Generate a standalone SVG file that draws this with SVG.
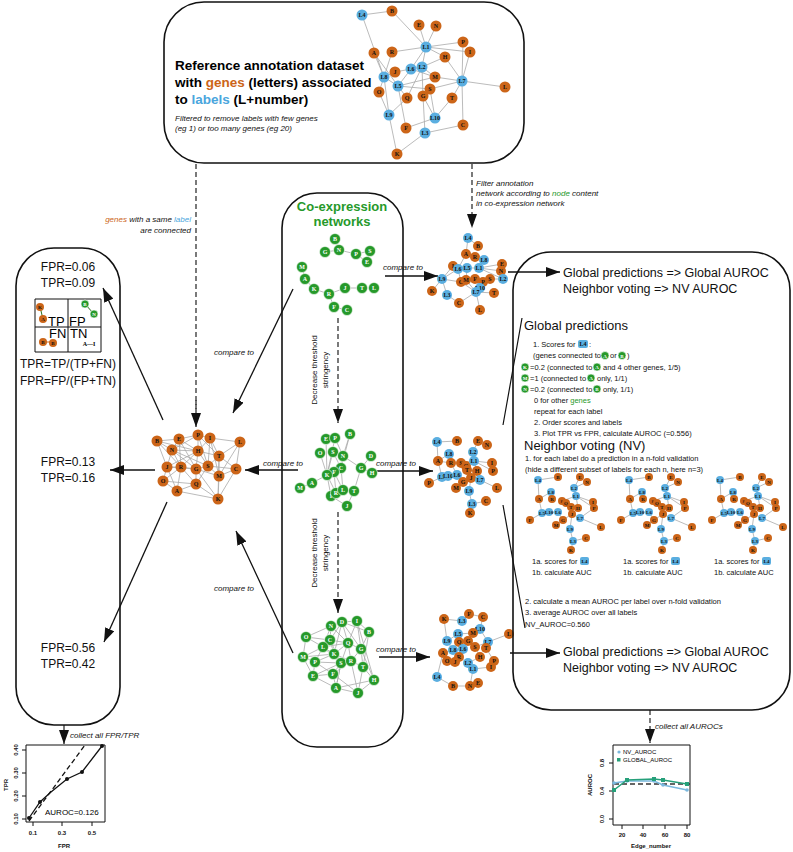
<svg xmlns="http://www.w3.org/2000/svg" width="793" height="852" viewBox="0 0 793 852">
<style>
.bx{fill:none;stroke:#111;stroke-width:1.6}
.o{fill:#cc6518}.b{fill:#5aaee0}.g{fill:#26992a;stroke:#fff;stroke-width:.6}
.t{font:bold 6px "Liberation Serif",serif;text-anchor:middle;fill:#111}
.tw{font:bold 6px "Liberation Serif",serif;text-anchor:middle;fill:#fff}
.ts{font:bold 5px "Liberation Serif",serif;text-anchor:middle;fill:#111}
.e{stroke:#aaa;stroke-width:.8;fill:none}
.a{stroke:#111;stroke-width:1.3;fill:none;marker-end:url(#ar)}
.d{stroke:#333;stroke-width:1.3;fill:none;stroke-dasharray:5,3}
.da{stroke:#333;stroke-width:1.3;fill:none;stroke-dasharray:5,3;marker-end:url(#ar)}
.it{font:italic 8px "Liberation Sans",Arial,sans-serif;fill:#111}
.s{font:7.5px "Liberation Sans",Arial,sans-serif;fill:#111}
.m{font:12.5px "Liberation Sans",Arial,sans-serif;fill:#111}
.h{font:13px "Liberation Sans",Arial,sans-serif;fill:#111}
.f{font:12px "Liberation Sans",Arial,sans-serif;fill:#111;text-anchor:middle}
.tk{font:bold 6px "Liberation Sans",Arial,sans-serif;fill:#111}
</style>
<defs>
<marker id="ar" viewBox="0 0 14 10" refX="14" refY="5" markerWidth="14" markerHeight="10" markerUnits="userSpaceOnUse" orient="auto"><path d="M0,0 L14,5 L0,10 z" fill="#111"/></marker>
<g id="mini">
<path class="e" d="M538,480L539,499M538,480L558,477M580,477L574,488M587,482L574,488M574,488L576,496M576,496L593,502M576,496L594,508M576,496L562,501M551,492L552,499M539,499L551,492M539,499L542,513M530,520L542,513M542,513L549,512M549,512L558,512M558,512L563,520M563,520L572,514M572,514L580,518M580,518L601,527M556,525L563,520M570,529L572,514M570,529L573,541M573,541L586,538M573,541L571,550M578,508L576,496M571,507L578,508M580,518L594,508"/>
<circle class="b" cx="538" cy="480" r="4"/><text class="ts" x="538" y="482">L4</text>
<circle class="o" cx="558" cy="477" r="4"/><text class="ts" x="558" y="479">B</text>
<circle class="o" cx="580" cy="477" r="4"/><text class="ts" x="580" y="479">E</text>
<circle class="o" cx="587" cy="482" r="4"/><text class="ts" x="587" y="484">N</text>
<circle class="b" cx="574" cy="488" r="4"/><text class="ts" x="574" y="490">L2</text>
<circle class="b" cx="551" cy="492" r="4"/><text class="ts" x="551" y="494">L8</text>
<circle class="o" cx="539" cy="499" r="4"/><text class="ts" x="539" y="501">A</text>
<circle class="o" cx="552" cy="499" r="4"/><text class="ts" x="552" y="501">R</text>
<circle class="o" cx="593" cy="502" r="4"/><text class="ts" x="593" y="504">I</text>
<circle class="o" cx="594" cy="508" r="4"/><text class="ts" x="594" y="510">P</text>
<circle class="o" cx="562" cy="501" r="4"/><text class="ts" x="562" y="503">S</text>
<circle class="o" cx="566" cy="503" r="4"/><text class="ts" x="566" y="505">Q</text>
<circle class="b" cx="576" cy="496" r="4"/><text class="ts" x="576" y="498">L1</text>
<circle class="o" cx="571" cy="507" r="4"/><text class="ts" x="571" y="509">T</text>
<circle class="o" cx="578" cy="508" r="4"/><text class="ts" x="578" y="510">H</text>
<circle class="o" cx="530" cy="520" r="4"/><text class="ts" x="530" y="522">F</text>
<circle class="b" cx="542" cy="513" r="4"/><text class="ts" x="542" y="515">L5</text>
<circle class="b" cx="549" cy="512" r="4"/><text class="ts" x="549" y="514">L10</text>
<circle class="b" cx="558" cy="512" r="4"/><text class="ts" x="558" y="514">L6</text>
<circle class="o" cx="572" cy="514" r="4"/><text class="ts" x="572" y="516">J</text>
<circle class="o" cx="563" cy="520" r="4"/><text class="ts" x="563" y="522">G</text>
<circle class="b" cx="580" cy="518" r="4"/><text class="ts" x="580" y="520">L7</text>
<circle class="o" cx="556" cy="525" r="4"/><text class="ts" x="556" y="527">M</text>
<circle class="o" cx="601" cy="527" r="4"/><text class="ts" x="601" y="529">L</text>
<circle class="b" cx="570" cy="529" r="4"/><text class="ts" x="570" y="531">L9</text>
<circle class="o" cx="586" cy="538" r="4"/><text class="ts" x="586" y="540">C</text>
<circle class="b" cx="573" cy="541" r="4"/><text class="ts" x="573" y="543">L3</text>
<circle class="o" cx="571" cy="550" r="4"/><text class="ts" x="571" y="552">K</text>
<text class="s" x="532" y="564">1a. scores for</text>
<rect x="580" y="557" width="9" height="8" rx="2" class="b"/><text class="ts" x="584.5" y="563">L4</text>
<text class="s" x="532" y="575">1b. calculate AUC</text>
</g>
</defs>

<!-- connectors -->
<g id="connectors">
<path class="d" d="M196,164V410"/><path class="da" d="M196,400V427"/>
<path class="da" d="M472,164V228"/>
<path class="a" d="M385,276H438"/>
<path class="a" d="M377,471H433"/>
<path class="a" d="M379,657H430"/>
<path class="a" d="M298,470H245"/>
<path class="a" d="M293,289L233,413"/>
<path class="a" d="M293,653L236,531"/>
<path class="da" d="M338,318V423"/>
<path class="da" d="M338,512V613"/>
<path class="a" d="M163,420L103,288"/>
<path class="a" d="M155,470H110"/>
<path class="a" d="M167,502L104,642"/>
<path class="a" d="M508,272H560"/>
<path class="a" d="M510,653H560"/>
<path stroke="#111" stroke-width="1.2" fill="none" d="M503,425L522,318M503,505L525,628"/>
<path class="da" d="M64,725V744"/>
<path class="da" d="M650,710V743"/>
</g>

<!-- labels on connectors -->
<g id="labels">
<text class="it" x="191" y="222" text-anchor="end"><tspan fill="#cc6518">genes</tspan> with a same  <tspan fill="#4aa6dd">label</tspan></text>
<text class="it" x="191" y="233" text-anchor="end">are connected</text>
<text class="it" x="476" y="186">Filter annotation</text>
<text class="it" x="476" y="196">network according to <tspan fill="#26992a">node</tspan> content</text>
<text class="it" x="476" y="206">in co-expression network</text>
<text class="it" x="383" y="270">compare to</text>
<text class="it" x="376" y="466">compare to</text>
<text class="it" x="376" y="652">compare to</text>
<text class="it" x="263" y="466">compare to</text>
<text class="it" x="214" y="355">compare to</text>
<text class="it" x="214" y="591">compare to</text>
<text class="it" x="317" y="370" transform="rotate(-90 317 370)" text-anchor="middle" style="font-style:normal">Decrease threshold</text>
<text class="it" x="328" y="370" transform="rotate(-90 328 370)" text-anchor="middle" style="font-style:normal">stringency</text>
<text class="it" x="317" y="553" transform="rotate(-90 317 553)" text-anchor="middle" style="font-style:normal">Decrease threshold</text>
<text class="it" x="328" y="553" transform="rotate(-90 328 553)" text-anchor="middle" style="font-style:normal">stringency</text>
<text class="it" x="70" y="738">collect all FPR/TPR</text>
<text class="it" x="655" y="729">collect all AUROCs</text>
</g>

<!-- top box -->
<g id="reference">
<rect class="bx" x="164" y="2" width="360" height="161" rx="40"/>
<text x="175" y="70" style="font:bold 13.5px 'Liberation Sans',Arial,sans-serif">Reference annotation dataset</text>
<text x="175" y="87" style="font:bold 13.5px 'Liberation Sans',Arial,sans-serif">with <tspan fill="#cc6518">genes</tspan> (letters) associated</text>
<text x="175" y="104" style="font:bold 13.5px 'Liberation Sans',Arial,sans-serif">to <tspan fill="#4aa6dd">labels</tspan> (L+number)</text>
<text class="it" x="175" y="121">Filtered to remove labels with few genes</text>
<text class="it" x="175" y="131"> (eg 1) or too many genes (eg 20)</text>
<path class="e" d="M362,15L392,11M362,15L384,77M392,11L426,47M419,25L426,47M436,26L426,47M426,47L463,42M426,47L470,52M426,47L392,52M426,47L422,67M426,47L445,57M426,47L411,69M392,52L384,77M374,53L384,77M374,53L398,86M384,77L395,72M384,77L379,92M384,77L398,86M384,77L389,115M411,69L395,72M411,69L398,86M411,69L422,67M411,69L435,77M422,67L445,57M422,67L407,98M422,67L423,96M422,67L435,77M445,57L462,81M435,77L462,81M435,77L398,86M463,42L462,81M470,52L462,81M462,81L505,87M462,81L430,89M462,81L452,98M462,81L463,125M430,89L398,86M430,89L435,118M423,96L425,133M398,86L407,98M389,115L379,92M389,115L397,154M389,115L407,98M435,118L406,128M435,118L452,98M435,118L423,96M425,133L463,125M425,133L397,154M406,128L398,86"/>
<circle class="b" cx="362" cy="15" r="5.5"/><text class="t" x="362" y="17">L4</text>
<circle class="o" cx="392" cy="11" r="5.5"/><text class="t" x="392" y="13">B</text>
<circle class="o" cx="419" cy="25" r="5.5"/><text class="t" x="419" y="27">E</text>
<circle class="o" cx="436" cy="26" r="5.5"/><text class="t" x="436" y="28">N</text>
<circle class="b" cx="426" cy="47" r="5.5"/><text class="t" x="426" y="49">L1</text>
<circle class="o" cx="463" cy="42" r="5.5"/><text class="t" x="463" y="44">P</text>
<circle class="o" cx="470" cy="52" r="5.5"/><text class="t" x="470" y="54">I</text>
<circle class="o" cx="374" cy="53" r="5.5"/><text class="t" x="374" y="55">A</text>
<circle class="o" cx="392" cy="52" r="5.5"/><text class="t" x="392" y="54">R</text>
<circle class="o" cx="445" cy="57" r="5.5"/><text class="t" x="445" y="59">H</text>
<circle class="b" cx="411" cy="69" r="5.5"/><text class="t" x="411" y="71">L6</text>
<circle class="b" cx="422" cy="67" r="5.5"/><text class="t" x="422" y="69">L2</text>
<circle class="o" cx="395" cy="72" r="5.5"/><text class="t" x="395" y="74">J</text>
<circle class="b" cx="384" cy="77" r="5.5"/><text class="t" x="384" y="79">L8</text>
<circle class="o" cx="435" cy="77" r="5.5"/><text class="t" x="435" y="79">M</text>
<circle class="b" cx="462" cy="81" r="5.5"/><text class="t" x="462" y="83">L7</text>
<circle class="o" cx="505" cy="87" r="5.5"/><text class="t" x="505" y="89">L</text>
<circle class="b" cx="398" cy="86" r="5.5"/><text class="t" x="398" y="88">L5</text>
<circle class="o" cx="379" cy="92" r="5.5"/><text class="t" x="379" y="94">O</text>
<circle class="o" cx="430" cy="89" r="5.5"/><text class="t" x="430" y="91">S</text>
<circle class="o" cx="407" cy="98" r="5.5"/><text class="t" x="407" y="100">Q</text>
<circle class="o" cx="423" cy="96" r="5.5"/><text class="t" x="423" y="98">G</text>
<circle class="o" cx="452" cy="98" r="5.5"/><text class="t" x="452" y="100">T</text>
<circle class="b" cx="389" cy="115" r="5.5"/><text class="t" x="389" y="117">L9</text>
<circle class="b" cx="435" cy="118" r="5.5"/><text class="t" x="435" y="120">L10</text>
<circle class="o" cx="406" cy="128" r="5.5"/><text class="t" x="406" y="130">F</text>
<circle class="o" cx="463" cy="125" r="5.5"/><text class="t" x="463" y="127">C</text>
<circle class="b" cx="425" cy="133" r="5.5"/><text class="t" x="425" y="135">L3</text>
<circle class="o" cx="397" cy="154" r="5.5"/><text class="t" x="397" y="156">K</text>
</g>

<!-- left box -->
<g id="metrics">
<rect class="bx" x="16" y="248" width="104" height="477" rx="38"/>
<text class="f" x="68" y="271">FPR=0.06</text>
<text class="f" x="68" y="287">TPR=0.09</text>
<path fill="none" stroke="#111" stroke-width="1" d="M35,299H101V352H35ZM68,299V352M35,327H101"/>
<path stroke="#2a6e1a" stroke-width="1" d="M40,307L43,319M85,304L94,314"/>
<circle class="o" cx="40" cy="307" r="4"/><text class="ts" x="40" y="309">K</text>
<circle class="o" cx="43" cy="319" r="4"/><text class="ts" x="43" y="321">A</text>
<circle class="g" cx="85" cy="304" r="4"/><text class="tw" x="85" y="306" style="font-size:5px">B</text>
<circle class="g" cx="94" cy="314" r="4"/><text class="tw" x="94" y="316" style="font-size:5px">N</text>
<text x="48" y="326" style="font:13px 'Liberation Sans',Arial,sans-serif">TP</text>
<text x="69" y="326" style="font:13px 'Liberation Sans',Arial,sans-serif">FP</text>
<text x="49" y="338" style="font:13px 'Liberation Sans',Arial,sans-serif">FN</text>
<text x="70" y="338" style="font:13px 'Liberation Sans',Arial,sans-serif">TN</text>
<path stroke="#cc6518" stroke-width="1" d="M43,342H53"/>
<circle class="o" cx="43" cy="342" r="4"/><text class="ts" x="43" y="344">B</text>
<circle class="o" cx="53" cy="343" r="4"/><text class="ts" x="53" y="345">B</text>
<text x="89" y="346" text-anchor="middle" style="font:bold 6px 'Liberation Serif',serif">A—I</text>
<text class="f" x="68" y="368">TPR=TP/(TP+FN)</text>
<text class="f" x="68" y="385">FPR=FP/(FP+TN)</text>
<text class="f" x="68" y="466">FPR=0.13</text>
<text class="f" x="68" y="482">TPR=0.16</text>
<text class="f" x="68" y="652">FPR=0.56</text>
<text class="f" x="68" y="668">TPR=0.42</text>
</g>

<!-- left orange network -->
<g id="annot-net-left">
<path class="e" d="M157,441L179,439M157,441L172,450M157,441L167,467M157,441L198,451M179,439L198,435M179,439L172,450M179,439L198,451M179,439L181,467M198,435L210,438M198,435L198,451M198,435L219,456M198,435L172,450M210,438L240,442M210,438L219,456M210,438L198,451M210,438L208,466M240,442L219,456M240,442L236,469M240,442L219,476M172,450L198,451M172,450L167,467M172,450L181,467M172,450L196,469M198,451L219,456M198,451L196,469M198,451L208,466M198,451L181,467M198,451L167,467M219,456L208,466M219,456L219,476M219,456L236,469M167,467L181,467M167,467L163,481M167,467L196,469M181,467L196,469M181,467L196,484M181,467L177,491M196,469L208,466M196,469L196,484M196,469L219,476M208,466L219,476M208,466L236,469M219,476L236,469M219,476L218,499M236,469L218,499M163,481L177,491M163,481L196,484M196,484L177,491M196,484L218,499M177,491L218,499M208,466L196,484M179,439L196,469M157,441L181,467M198,435L208,466M210,438L219,476M172,450L208,466M167,467L177,491M196,469L218,499M219,456L218,499M163,481L181,467"/>
<circle class="o" cx="157" cy="441" r="5.5"/><text class="t" x="157" y="443">B</text>
<circle class="o" cx="179" cy="439" r="5.5"/><text class="t" x="179" y="441">E</text>
<circle class="o" cx="198" cy="435" r="5.5"/><text class="t" x="198" y="437">P</text>
<circle class="o" cx="210" cy="438" r="5.5"/><text class="t" x="210" y="440">I</text>
<circle class="o" cx="240" cy="442" r="5.5"/><text class="t" x="240" y="444">L</text>
<circle class="o" cx="172" cy="450" r="5.5"/><text class="t" x="172" y="452">N</text>
<circle class="o" cx="198" cy="451" r="5.5"/><text class="t" x="198" y="453">H</text>
<circle class="o" cx="219" cy="456" r="5.5"/><text class="t" x="219" y="458">T</text>
<circle class="o" cx="167" cy="467" r="5.5"/><text class="t" x="167" y="469">J</text>
<circle class="o" cx="181" cy="467" r="5.5"/><text class="t" x="181" y="469">R</text>
<circle class="o" cx="196" cy="469" r="5.5"/><text class="t" x="196" y="471">G</text>
<circle class="o" cx="208" cy="466" r="5.5"/><text class="t" x="208" y="468">S</text>
<circle class="o" cx="219" cy="476" r="5.5"/><text class="t" x="219" y="478">M</text>
<circle class="o" cx="236" cy="469" r="5.5"/><text class="t" x="236" y="471">C</text>
<circle class="o" cx="163" cy="481" r="5.5"/><text class="t" x="163" y="483">O</text>
<circle class="o" cx="196" cy="484" r="5.5"/><text class="t" x="196" y="486">Q</text>
<circle class="o" cx="177" cy="491" r="5.5"/><text class="t" x="177" y="493">A</text>
<circle class="o" cx="218" cy="499" r="5.5"/><text class="t" x="218" y="501">K</text>
</g>

<!-- center box -->
<g id="coexpression">
<rect class="bx" x="282" y="193" width="121" height="554" rx="35"/>
<text x="342" y="211" text-anchor="middle" style="font:bold 13px 'Liberation Sans',Arial,sans-serif" fill="#26992a">Co-expression</text>
<text x="342" y="226" text-anchor="middle" style="font:bold 13px 'Liberation Sans',Arial,sans-serif" fill="#26992a">networks</text>
</g>
<g id="coexp-net-1">
<path class="e" d="M325,252L339,250M339,250L335,239M339,250L356,254M356,254L370,251M356,254L367,262M370,251L367,262M302,267L305,279M305,279L314,289M314,289L329,294M329,294L345,288M345,288L362,288M362,288L374,288M329,294L334,307M334,307L347,310"/>
<circle class="g" cx="335" cy="239" r="5.5"/><text class="tw" x="335" y="241">B</text>
<circle class="g" cx="325" cy="252" r="5.5"/><text class="tw" x="325" y="254">G</text>
<circle class="g" cx="339" cy="250" r="5.5"/><text class="tw" x="339" y="252">N</text>
<circle class="g" cx="356" cy="254" r="5.5"/><text class="tw" x="356" y="256">P</text>
<circle class="g" cx="370" cy="251" r="5.5"/><text class="tw" x="370" y="253">S</text>
<circle class="g" cx="367" cy="262" r="5.5"/><text class="tw" x="367" y="264">E</text>
<circle class="g" cx="302" cy="267" r="5.5"/><text class="tw" x="302" y="269">M</text>
<circle class="g" cx="305" cy="279" r="5.5"/><text class="tw" x="305" y="281">A</text>
<circle class="g" cx="314" cy="289" r="5.5"/><text class="tw" x="314" y="291">K</text>
<circle class="g" cx="329" cy="294" r="5.5"/><text class="tw" x="329" y="296">R</text>
<circle class="g" cx="345" cy="288" r="5.5"/><text class="tw" x="345" y="290">J</text>
<circle class="g" cx="362" cy="288" r="5.5"/><text class="tw" x="362" y="290">T</text>
<circle class="g" cx="374" cy="288" r="5.5"/><text class="tw" x="374" y="290">L</text>
<circle class="g" cx="334" cy="307" r="5.5"/><text class="tw" x="334" y="309">F</text>
<circle class="g" cx="347" cy="310" r="5.5"/><text class="tw" x="347" y="312">C</text>
</g>
<g id="coexp-net-2">
<path class="e" d="M326,439L335,438M326,439L327,475M335,438L327,475M335,438L343,456M350,434L343,456M320,453L327,475M333,452L327,475M333,452L341,468M343,456L341,468M343,456L361,468M361,468L371,456M361,468L372,473M361,468L354,491M341,468L334,472M334,472L327,475M327,475L312,483M312,483L300,488M327,475L331,496M327,475L336,493M334,472L336,493M334,472L343,490M341,468L343,490M343,490L354,491M336,493L343,490M354,491L347,506M331,496L347,506M350,434L341,468"/>
<circle class="g" cx="350" cy="434" r="5.5"/><text class="tw" x="350" y="436">B</text>
<circle class="g" cx="326" cy="439" r="5.5"/><text class="tw" x="326" y="441">E</text>
<circle class="g" cx="335" cy="438" r="5.5"/><text class="tw" x="335" y="440">P</text>
<circle class="g" cx="320" cy="453" r="5.5"/><text class="tw" x="320" y="455">O</text>
<circle class="g" cx="333" cy="452" r="5.5"/><text class="tw" x="333" y="454">S</text>
<circle class="g" cx="343" cy="456" r="5.5"/><text class="tw" x="343" y="458">N</text>
<circle class="g" cx="371" cy="456" r="5.5"/><text class="tw" x="371" y="458">D</text>
<circle class="g" cx="361" cy="468" r="5.5"/><text class="tw" x="361" y="470">G</text>
<circle class="g" cx="372" cy="473" r="5.5"/><text class="tw" x="372" y="475">H</text>
<circle class="g" cx="341" cy="468" r="5.5"/><text class="tw" x="341" y="470">C</text>
<circle class="g" cx="334" cy="472" r="5.5"/><text class="tw" x="334" y="474">F</text>
<circle class="g" cx="327" cy="475" r="5.5"/><text class="tw" x="327" y="477">K</text>
<circle class="g" cx="312" cy="483" r="5.5"/><text class="tw" x="312" y="485">A</text>
<circle class="g" cx="300" cy="488" r="5.5"/><text class="tw" x="300" y="490">M</text>
<circle class="g" cx="331" cy="496" r="5.5"/><text class="tw" x="331" y="498">I</text>
<circle class="g" cx="336" cy="493" r="5.5"/><text class="tw" x="336" y="495">R</text>
<circle class="g" cx="343" cy="490" r="5.5"/><text class="tw" x="343" y="492">L</text>
<circle class="g" cx="354" cy="491" r="5.5"/><text class="tw" x="354" y="493">T</text>
<circle class="g" cx="347" cy="506" r="5.5"/><text class="tw" x="347" y="508">J</text>
</g>
<g id="coexp-net-3">
<path class="e" d="M342,622L357,621M342,622L331,626M342,622L369,632M342,622L348,643M342,622L330,640M342,622L361,649M357,621L369,632M357,621L348,643M357,621L361,649M331,626L330,640M331,626L306,637M331,626L348,643M306,637L323,647M306,637L303,657M306,637L330,640M330,640L323,647M330,640L348,643M330,640L334,654M323,647L303,657M323,647L334,654M323,647L315,662M323,647L341,663M348,643L361,649M348,643L334,654M348,643L341,663M348,643L351,661M361,649L369,632M361,649L351,661M361,649L363,667M361,649L374,680M303,657L315,662M303,657L313,676M334,654L341,663M334,654L351,661M334,654L315,662M315,662L341,663M315,662L313,676M315,662L333,674M341,663L351,661M341,663L333,674M341,663L336,688M351,661L363,667M351,661L358,693M363,667L374,680M363,667L358,693M313,676L333,674M313,676L336,688M333,674L336,688M333,674L358,693M336,688L358,693M374,680L358,693M369,632L363,667M357,621L374,680M330,640L341,663M303,657L334,654M331,626L323,647M342,622L334,654M323,647L348,643M333,674L351,661M313,676L341,663M336,688L341,663M336,688L374,680"/>
<circle class="g" cx="342" cy="622" r="5.5"/><text class="tw" x="342" y="624">D</text>
<circle class="g" cx="357" cy="621" r="5.5"/><text class="tw" x="357" y="623">I</text>
<circle class="g" cx="331" cy="626" r="5.5"/><text class="tw" x="331" y="628">N</text>
<circle class="g" cx="369" cy="632" r="5.5"/><text class="tw" x="369" y="634">B</text>
<circle class="g" cx="306" cy="637" r="5.5"/><text class="tw" x="306" y="639">O</text>
<circle class="g" cx="330" cy="640" r="5.5"/><text class="tw" x="330" y="642">C</text>
<circle class="g" cx="323" cy="647" r="5.5"/><text class="tw" x="323" y="649">L</text>
<circle class="g" cx="348" cy="643" r="5.5"/><text class="tw" x="348" y="645">Q</text>
<circle class="g" cx="361" cy="649" r="5.5"/><text class="tw" x="361" y="651">G</text>
<circle class="g" cx="303" cy="657" r="5.5"/><text class="tw" x="303" y="659">M</text>
<circle class="g" cx="334" cy="654" r="5.5"/><text class="tw" x="334" y="656">K</text>
<circle class="g" cx="315" cy="662" r="5.5"/><text class="tw" x="315" y="664">P</text>
<circle class="g" cx="341" cy="663" r="5.5"/><text class="tw" x="341" y="665">S</text>
<circle class="g" cx="351" cy="661" r="5.5"/><text class="tw" x="351" y="663">R</text>
<circle class="g" cx="363" cy="667" r="5.5"/><text class="tw" x="363" y="669">T</text>
<circle class="g" cx="313" cy="676" r="5.5"/><text class="tw" x="313" y="678">E</text>
<circle class="g" cx="333" cy="674" r="5.5"/><text class="tw" x="333" y="676">F</text>
<circle class="g" cx="374" cy="680" r="5.5"/><text class="tw" x="374" y="682">H</text>
<circle class="g" cx="336" cy="688" r="5.5"/><text class="tw" x="336" y="690">A</text>
<circle class="g" cx="358" cy="693" r="5.5"/><text class="tw" x="358" y="695">J</text>
</g>

<!-- right filtered annotation networks -->
<g id="annot-net-1">
<path class="e" d="M468,238L478,246M468,238L466,254M466,254L475,257M466,254L458,269M475,257L484,260M484,260L479,268M479,268L502,264M479,268L501,271M479,268L503,279M467,268L479,268M458,269L442,279M442,279L432,291M442,279L447,295M442,279L461,282M447,295L459,303M459,303L476,292M476,292L480,310M476,292L494,293M480,288L490,279M480,288L476,292M466,280L476,292M461,282L476,292M475,279L480,288M483,282L490,279M490,279L503,279M503,279L502,264M453,266L442,279M467,268L466,280M458,269L461,282"/>
<circle class="b" cx="468" cy="238" r="5"/><text class="t" x="468" y="240">L4</text>
<circle class="o" cx="478" cy="246" r="5"/><text class="t" x="478" y="248">B</text>
<circle class="o" cx="466" cy="254" r="5"/><text class="t" x="466" y="256">A</text>
<circle class="o" cx="475" cy="257" r="5"/><text class="t" x="475" y="259">R</text>
<circle class="b" cx="484" cy="260" r="5"/><text class="t" x="484" y="262">L8</text>
<circle class="o" cx="453" cy="266" r="5"/><text class="t" x="453" y="268">I</text>
<circle class="o" cx="502" cy="264" r="5"/><text class="t" x="502" y="266">E</text>
<circle class="o" cx="501" cy="271" r="5"/><text class="t" x="501" y="273">N</text>
<circle class="b" cx="458" cy="269" r="5"/><text class="t" x="458" y="271">L6</text>
<circle class="b" cx="467" cy="268" r="5"/><text class="t" x="467" y="270">L5</text>
<circle class="b" cx="479" cy="268" r="5"/><text class="t" x="479" y="270">L1</text>
<circle class="b" cx="442" cy="279" r="5"/><text class="t" x="442" y="281">L9</text>
<circle class="o" cx="461" cy="282" r="5"/><text class="t" x="461" y="284">O</text>
<circle class="o" cx="466" cy="280" r="5"/><text class="t" x="466" y="282">M</text>
<circle class="o" cx="475" cy="279" r="5"/><text class="t" x="475" y="281">F</text>
<circle class="o" cx="483" cy="282" r="5"/><text class="t" x="483" y="284">P</text>
<circle class="o" cx="490" cy="279" r="5"/><text class="t" x="490" y="281">S</text>
<circle class="b" cx="503" cy="279" r="5"/><text class="t" x="503" y="281">L2</text>
<circle class="b" cx="480" cy="288" r="5"/><text class="t" x="480" y="290">L10</text>
<circle class="b" cx="476" cy="292" r="5"/><text class="t" x="476" y="294">L7</text>
<circle class="o" cx="494" cy="293" r="5"/><text class="t" x="494" y="295">T</text>
<circle class="o" cx="432" cy="291" r="5"/><text class="t" x="432" y="293">K</text>
<circle class="b" cx="447" cy="295" r="5"/><text class="t" x="447" y="297">L3</text>
<circle class="o" cx="459" cy="303" r="5"/><text class="t" x="459" y="305">C</text>
<circle class="o" cx="480" cy="310" r="5"/><text class="t" x="480" y="312">L</text>
</g>
<g id="annot-net-2">
<path class="e" d="M437,442L457,441M437,442L438,461M478,441L487,445M478,441L473,452M473,452L474,461M474,461L492,463M474,461L493,471M474,461L461,463M449,454L451,463M438,461L451,463M438,461L449,454M438,461L442,477M442,477L448,476M448,476L457,475M457,475L463,482M463,482L471,478M471,478L480,480M480,480L497,488M480,480L477,471M477,471L467,470M456,488L463,482M469,491L471,478M469,491L472,504M472,504L486,501M472,504L470,513M429,483L442,477M466,466L467,470M461,463L466,466M451,463L457,475M474,461L480,480"/>
<circle class="b" cx="437" cy="442" r="5"/><text class="t" x="437" y="444">L4</text>
<circle class="o" cx="457" cy="441" r="5"/><text class="t" x="457" y="443">B</text>
<circle class="o" cx="478" cy="441" r="5"/><text class="t" x="478" y="443">E</text>
<circle class="o" cx="487" cy="445" r="5"/><text class="t" x="487" y="447">N</text>
<circle class="b" cx="449" cy="454" r="5"/><text class="t" x="449" y="456">L8</text>
<circle class="b" cx="473" cy="452" r="5"/><text class="t" x="473" y="454">L2</text>
<circle class="o" cx="438" cy="461" r="5"/><text class="t" x="438" y="463">A</text>
<circle class="o" cx="451" cy="463" r="5"/><text class="t" x="451" y="465">R</text>
<circle class="o" cx="461" cy="463" r="5"/><text class="t" x="461" y="465">S</text>
<circle class="o" cx="466" cy="466" r="5"/><text class="t" x="466" y="468">Q</text>
<circle class="b" cx="474" cy="461" r="5"/><text class="t" x="474" y="463">L1</text>
<circle class="o" cx="492" cy="463" r="5"/><text class="t" x="492" y="465">I</text>
<circle class="o" cx="493" cy="471" r="5"/><text class="t" x="493" y="473">P</text>
<circle class="o" cx="467" cy="470" r="5"/><text class="t" x="467" y="472">T</text>
<circle class="o" cx="477" cy="471" r="5"/><text class="t" x="477" y="473">H</text>
<circle class="o" cx="429" cy="483" r="5"/><text class="t" x="429" y="485">P</text>
<circle class="b" cx="442" cy="477" r="5"/><text class="t" x="442" y="479">L5</text>
<circle class="b" cx="448" cy="476" r="5"/><text class="t" x="448" y="478">L10</text>
<circle class="b" cx="457" cy="475" r="5"/><text class="t" x="457" y="477">L6</text>
<circle class="o" cx="471" cy="478" r="5"/><text class="t" x="471" y="480">J</text>
<circle class="o" cx="463" cy="482" r="5"/><text class="t" x="463" y="484">G</text>
<circle class="b" cx="480" cy="480" r="5"/><text class="t" x="480" y="482">L7</text>
<circle class="o" cx="497" cy="488" r="5"/><text class="t" x="497" y="490">L</text>
<circle class="o" cx="456" cy="488" r="5"/><text class="t" x="456" y="490">M</text>
<circle class="b" cx="469" cy="491" r="5"/><text class="t" x="469" y="493">L9</text>
<circle class="b" cx="472" cy="504" r="5"/><text class="t" x="472" y="506">L3</text>
<circle class="o" cx="486" cy="501" r="5"/><text class="t" x="486" y="503">C</text>
<circle class="o" cx="470" cy="513" r="5"/><text class="t" x="470" y="515">K</text>
</g>
<g id="annot-net-3">
<path class="e" d="M444,619L462,621M462,621L469,614M469,614L483,617M483,617L480,629M480,629L473,633M473,633L458,634M458,634L447,641M447,641L444,619M488,642L509,634M488,642L486,648M488,642L475,647M468,641L459,642M453,650L463,649M443,653L453,650M443,653L447,661M447,661L455,662M455,662L459,657M459,657L468,663M468,663L473,669M473,669L470,686M470,686L478,683M437,677L453,686M453,686L470,686M437,677L443,653M480,657L468,663M494,661L491,667M491,667L473,669M463,649L468,641M475,647L480,657M473,633L468,641M480,629L488,642M447,641L453,650M486,648L494,661"/>
<circle class="o" cx="444" cy="619" r="5"/><text class="t" x="444" y="621">K</text>
<circle class="b" cx="462" cy="621" r="5"/><text class="t" x="462" y="623">L3</text>
<circle class="o" cx="469" cy="614" r="5"/><text class="t" x="469" y="616">F</text>
<circle class="o" cx="483" cy="617" r="5"/><text class="t" x="483" y="619">C</text>
<circle class="b" cx="480" cy="629" r="5"/><text class="t" x="480" y="631">L10</text>
<circle class="o" cx="473" cy="633" r="5"/><text class="t" x="473" y="635">M</text>
<circle class="b" cx="458" cy="634" r="5"/><text class="t" x="458" y="636">L5</text>
<circle class="o" cx="509" cy="634" r="5"/><text class="t" x="509" y="636">L</text>
<circle class="b" cx="447" cy="641" r="5"/><text class="t" x="447" y="643">L9</text>
<circle class="o" cx="459" cy="642" r="5"/><text class="t" x="459" y="644">Q</text>
<circle class="o" cx="468" cy="641" r="5"/><text class="t" x="468" y="643">G</text>
<circle class="b" cx="488" cy="642" r="5"/><text class="t" x="488" y="644">L7</text>
<circle class="o" cx="475" cy="647" r="5"/><text class="t" x="475" y="649">S</text>
<circle class="o" cx="486" cy="648" r="5"/><text class="t" x="486" y="650">T</text>
<circle class="b" cx="453" cy="650" r="5"/><text class="t" x="453" y="652">L8</text>
<circle class="b" cx="463" cy="649" r="5"/><text class="t" x="463" y="651">L6</text>
<circle class="o" cx="443" cy="653" r="5"/><text class="t" x="443" y="655">A</text>
<circle class="o" cx="459" cy="657" r="5"/><text class="t" x="459" y="659">R</text>
<circle class="o" cx="480" cy="657" r="5"/><text class="t" x="480" y="659">H</text>
<circle class="o" cx="494" cy="661" r="5"/><text class="t" x="494" y="663">P</text>
<circle class="o" cx="447" cy="661" r="5"/><text class="t" x="447" y="663">O</text>
<circle class="o" cx="455" cy="662" r="5"/><text class="t" x="455" y="664">J</text>
<circle class="b" cx="468" cy="663" r="5"/><text class="t" x="468" y="665">L2</text>
<circle class="o" cx="491" cy="667" r="5"/><text class="t" x="491" y="669">I</text>
<circle class="b" cx="473" cy="669" r="5"/><text class="t" x="473" y="671">L1</text>
<circle class="b" cx="437" cy="677" r="5"/><text class="t" x="437" y="679">L4</text>
<circle class="o" cx="453" cy="686" r="5"/><text class="t" x="453" y="688">B</text>
<circle class="o" cx="470" cy="686" r="5"/><text class="t" x="470" y="688">N</text>
<circle class="o" cx="478" cy="683" r="5"/><text class="t" x="478" y="685">E</text>
</g>

<!-- right box -->
<g id="evaluation">
<rect class="bx" x="513" y="252" width="277" height="458" rx="38"/>
<text class="m" x="563" y="277">Global predictions =&gt; Global AUROC</text>
<text class="m" x="563" y="293">Neighbor voting =&gt; NV AUROC</text>
<text class="h" x="524" y="330">Global predictions</text>
<text class="s" x="533" y="347">1. Scores for</text>
<rect x="578" y="340" width="10" height="8" rx="2" class="b"/><text class="t" x="583" y="346">L4</text><text class="s" x="589" y="347">:</text>
<text class="s" x="533" y="358">(genes connected to</text>
<circle class="g" cx="605" cy="355.5" r="4"/><text class="tw" x="605" y="357.5" style="font-size:5px">A</text>
<text class="s" x="610" y="358">or</text>
<circle class="g" cx="622" cy="355.5" r="4"/><text class="tw" x="622" y="357.5" style="font-size:5px">B</text>
<text class="s" x="627" y="358">)</text>
<circle class="g" cx="525" cy="367" r="4"/><text class="tw" x="525" y="369" style="font-size:5px">K</text>
<text class="s" x="530" y="370">=0.2 (connected to</text>
<circle class="g" cx="597" cy="367" r="4"/><text class="tw" x="597" y="369" style="font-size:5px">A</text>
<text class="s" x="603" y="370">and 4 other genes, 1/5)</text>
<circle class="g" cx="525" cy="378" r="4"/><text class="tw" x="525" y="380" style="font-size:5px">M</text>
<text class="s" x="530" y="381">=1 (connected to</text>
<circle class="g" cx="591" cy="378" r="4"/><text class="tw" x="591" y="380" style="font-size:5px">A</text>
<text class="s" x="597" y="381">only, 1/1)</text>
<circle class="g" cx="525" cy="389" r="4"/><text class="tw" x="525" y="391" style="font-size:5px">N</text>
<text class="s" x="530" y="392">=0.2 (connected to</text>
<circle class="g" cx="597" cy="389" r="4"/><text class="tw" x="597" y="391" style="font-size:5px">B</text>
<text class="s" x="603" y="392">only, 1/1)</text>
<text class="s" x="534" y="403">0 for other <tspan fill="#26992a">genes</tspan></text>
<text class="s" x="534" y="414" font-style="italic">repeat for each label</text>
<text class="s" x="534" y="425">2. Order scores and labels</text>
<text class="s" x="534" y="436">3. Plot TPR vs FPR, calculate AUROC (=0.556)</text>
<text class="h" x="524" y="450">Neighbor voting (NV)</text>
<text class="s" x="525" y="461">1. for each label do a prediction in a n-fold validation</text>
<text class="s" x="525" y="472">(hide a different subset of labels for each n, here n=3)</text>
<use href="#mini"/>
<use href="#mini" x="91"/>
<use href="#mini" x="182"/>
<text class="s" x="525" y="604">2. calculate a mean AUROC per label over n-fold validation</text>
<text class="s" x="525" y="615">3. average AUROC over all labels</text>
<text class="s" x="525" y="627">NV_AUROC=0.560</text>
<text class="m" x="563" y="656">Global predictions =&gt; Global AUROC</text>
<text class="m" x="563" y="672">Neighbor voting =&gt; NV AUROC</text>
</g>

<!-- ROC plot -->
<g id="roc-plot">
<path fill="none" stroke="#111" stroke-width="1" d="M26,745H105V822H26Z"/>
<path stroke="#111" stroke-width="1" d="M33,822v4M62,822v4M92,822v4M26,819h-4M26,796h-4M26,773h-4M26,750h-4"/>
<text class="tk" x="33" y="835" text-anchor="middle">0.1</text>
<text class="tk" x="62" y="835" text-anchor="middle">0.3</text>
<text class="tk" x="92" y="835" text-anchor="middle">0.5</text>
<text class="tk" x="18" y="819" text-anchor="middle" transform="rotate(-90 18 819)">0.10</text>
<text class="tk" x="18" y="796" text-anchor="middle" transform="rotate(-90 18 796)">0.20</text>
<text class="tk" x="18" y="773" text-anchor="middle" transform="rotate(-90 18 773)">0.30</text>
<text class="tk" x="18" y="750" text-anchor="middle" transform="rotate(-90 18 750)">0.40</text>
<text class="tk" x="64" y="848" text-anchor="middle">FPR</text>
<text class="tk" x="8" y="785" text-anchor="middle" transform="rotate(-90 8 785)">TPR</text>
<path stroke="#111" stroke-width="1.3" stroke-dasharray="5,3" fill="none" d="M29,821L85,745"/>
<path stroke="#111" stroke-width="1.3" fill="none" d="M29,818L40,802L51,792L67,779L82,772L102,746"/>
<g fill="#111"><circle cx="29" cy="818" r="2"/><circle cx="40" cy="802" r="2"/><circle cx="67" cy="779" r="2"/><circle cx="82" cy="772" r="2"/><circle cx="102" cy="746" r="2"/></g>
<text x="45" y="815" style="font:8px 'Liberation Sans',Arial,sans-serif">AUROC=0.126</text>
</g>

<!-- AUROC plot -->
<g id="auroc-plot">
<path fill="none" stroke="#111" stroke-width="1" d="M613,745H690V825H613Z"/>
<path stroke="#111" stroke-width="1" d="M622,825v4M643,825v4M665,825v4M687,825v4M613,819h-4M613,791h-4M613,763h-4"/>
<text class="tk" x="622" y="837" text-anchor="middle">20</text>
<text class="tk" x="643" y="837" text-anchor="middle">40</text>
<text class="tk" x="665" y="837" text-anchor="middle">60</text>
<text class="tk" x="687" y="837" text-anchor="middle">80</text>
<text class="tk" x="604" y="819" text-anchor="middle" transform="rotate(-90 604 819)">0.0</text>
<text class="tk" x="604" y="791" text-anchor="middle" transform="rotate(-90 604 791)">0.4</text>
<text class="tk" x="604" y="763" text-anchor="middle" transform="rotate(-90 604 763)">0.8</text>
<text class="tk" x="651" y="848" text-anchor="middle">Edge_number</text>
<text class="tk" x="592" y="785" text-anchor="middle" transform="rotate(-90 592 785)">AUROC</text>
<path stroke="#333" stroke-width="1.3" stroke-dasharray="5,3" d="M614,784H690"/>
<path stroke="#7ab8de" stroke-width="1.5" fill="none" d="M614,783L627,781L654,781L663,785L687,790"/>
<path stroke="#26a07a" stroke-width="1.5" fill="none" d="M614,790L627,780L654,779L663,780L687,784"/>
<g fill="#7ab8de"><circle cx="614" cy="783" r="1.8"/><circle cx="627" cy="781" r="1.8"/><circle cx="654" cy="781" r="1.8"/><circle cx="663" cy="785" r="1.8"/><circle cx="687" cy="790" r="1.8"/><circle cx="619" cy="752" r="1.6"/></g>
<g fill="#26a07a"><rect x="612" y="788" width="4" height="4"/><rect x="625" y="778" width="4" height="4"/><rect x="652" y="777" width="4" height="4"/><rect x="661" y="778" width="4" height="4"/><rect x="685" y="782" width="4" height="4"/><rect x="617" y="758" width="3.5" height="3.5"/></g>
<text x="623" y="754" style="font:6px 'Liberation Sans',Arial,sans-serif">NV_AUROC</text>
<text x="623" y="762" style="font:6px 'Liberation Sans',Arial,sans-serif">GLOBAL_AUROC</text>
</g>
</svg>
